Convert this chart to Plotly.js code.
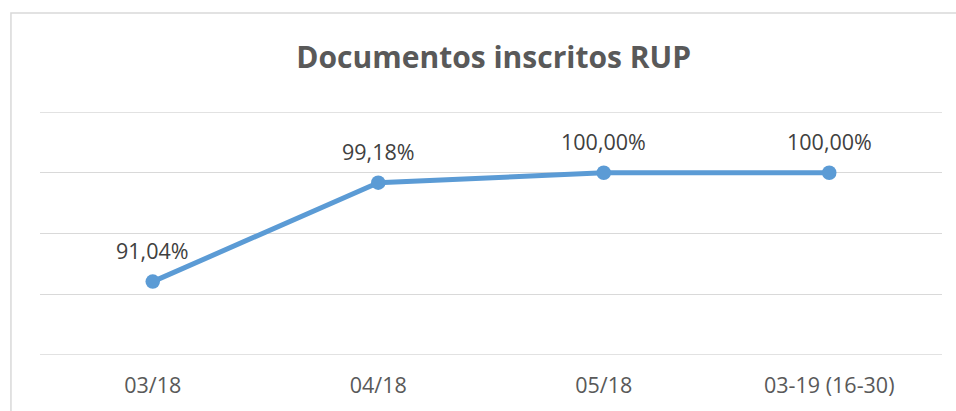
<!DOCTYPE html>
<html>
<head>
<meta charset="utf-8">
<script src="https://cdn.plot.ly/plotly-3.0.1.min.js"></script>
<style>html,body{margin:0;padding:0;background:#fff;}#chart{width:956px;height:411px;}</style>
</head>
<body>
<div id="chart"></div>
<script>
const categories = ["03/18", "04/18", "05/18", "03-19 (16-30)"];
const values = [91.04, 99.18, 100.00, 100.00];
const chartTitle = "Documentos inscritos RUP";
const edgeGridValues = [85, 105];

const fmt = v => v.toFixed(2).replace('.', ',') + '%';
const FONT = '"Open Sans", sans-serif';

const trace = {
  x: categories,
  y: values,
  type: 'scatter',
  mode: 'lines+markers',
  line: {color: '#5B9BD5', width: 5},
  marker: {color: '#5B9BD5', size: 14.5},
  hoverinfo: 'skip',
  cliponaxis: false
};

const annotations = categories.map((c, i) => ({
  x: c, y: values[i], xref: 'x', yref: 'y',
  text: fmt(values[i]), showarrow: false,
  yanchor: 'middle', yshift: 31,
  font: {family: FONT, size: 21.5, color: '#404040'}
}));

const shapes = [{type: 'rect', xref: 'paper', yref: 'paper', x0: -0.0322, x1: 1.2, y0: -0.6, y1: 1.407,
                 line: {color: '#d9d9d9', width: 1.5}, fillcolor: 'rgba(0,0,0,0)', layer: 'below'}]
  .concat(edgeGridValues.map(v => ({type: 'line', xref: 'paper', yref: 'y', x0: 0, x1: 1, y0: v, y1: v,
                 line: {color: '#d9d9d9', width: 1.3}, layer: 'below'})));

const layout = {
  width: 956, height: 411,
  margin: {l: 40, r: 14, t: 112, b: 56},
  paper_bgcolor: '#fff', plot_bgcolor: '#fff',
  showlegend: false,
  title: {text: '<b>' + chartTitle + '</b>', xref: 'paper', x: 0.503, xanchor: 'center', y: 0.86, yanchor: 'middle',
          font: {family: FONT, size: 30, color: '#595959'}},
  xaxis: {type: 'category', range: [-0.5, 3.5], showgrid: false, zeroline: false,
          showline: false, ticks: '', ticklabelstandoff: 15,
          tickfont: {family: FONT, size: 21.5, color: '#595959'}},
  yaxis: {range: [85, 105], dtick: 5, tick0: 85, showgrid: true, gridcolor: '#d9d9d9', gridwidth: 1.3,
          zeroline: false, showticklabels: false, ticks: '', showline: false},
  shapes: shapes,
  annotations: annotations
};

Plotly.newPlot('chart', [trace], layout, {displayModeBar: false, staticPlot: true});
</script>
</body>
</html>
